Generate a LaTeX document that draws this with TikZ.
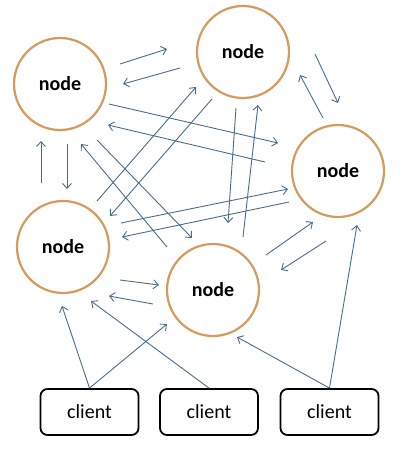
\documentclass[tikz,border=0pt]{standalone}
\usepackage{fontspec}
\setmainfont{Carlito}
\usetikzlibrary{arrows.meta}
\definecolor{ringc}{HTML}{D49A5E}
\definecolor{arrc}{HTML}{4A6C8C}
\begin{document}
\begin{tikzpicture}[x=1pt,y=-1pt,
  ring/.style={circle,draw=ringc,line width=2.2pt,minimum size=92pt,inner sep=0pt,font=\fontsize{20}{24}\selectfont\bfseries},
  cbox/.style={draw=black,line width=1.8pt,rounded corners=7pt,minimum width=98pt,minimum height=46pt,inner sep=0pt,font=\fontsize{20}{24}\selectfont},
  link/.style={draw=arrc,line width=0.9pt,-{Straight Barb[length=5pt,width=9pt,line width=0.9pt]}}]
\useasboundingbox (0,0) rectangle (414,463);
\node[ring] (A) at (60,84) {node};
\node[ring] (B) at (243,52) {node};
\node[ring] (C) at (338,171) {node};
\node[ring] (D) at (63,247) {node};
\node[ring] (E) at (213,290) {node};
\node[cbox] (K1) at (89.5,412) {client};
\node[cbox] (K2) at (209,412) {client};
\node[cbox] (K3) at (329.5,412) {client};
% connector end points
\coordinate (ab1) at (120,64);  \coordinate (ab2) at (167,49);
\coordinate (ba1) at (180,68);  \coordinate (ba2) at (123,84);
\coordinate (ac1) at (109,104); \coordinate (ac2) at (278,143);
\coordinate (ca1) at (265,162); \coordinate (ca2) at (108,125);
\coordinate (da1) at (41,183);  \coordinate (da2) at (41,141);
\coordinate (ad1) at (67,144);  \coordinate (ad2) at (67,189);
\coordinate (ae1) at (97,140);  \coordinate (ae2) at (192,238);
\coordinate (ea1) at (167,247); \coordinate (ea2) at (81,144);
\coordinate (db1) at (97,201);  \coordinate (db2) at (196,87);
\coordinate (bd1) at (212,99);  \coordinate (bd2) at (110,216);
\coordinate (be1) at (236,108); \coordinate (be2) at (228,223);
\coordinate (eb1) at (243,237); \coordinate (eb2) at (258,105);
\coordinate (dc1) at (121,223); \coordinate (dc2) at (288,189);
\coordinate (cd1) at (289,202); \coordinate (cd2) at (122,237);
\coordinate (bc1) at (315,54);  \coordinate (bc2) at (338,103);
\coordinate (cb1) at (323,118); \coordinate (cb2) at (300,75);
\coordinate (ec1) at (266,255); \coordinate (ec2) at (313,222);
\coordinate (ce1) at (326,241); \coordinate (ce2) at (281,270);
\coordinate (de1) at (120,280); \coordinate (de2) at (159,285);
\coordinate (ed1) at (153,304); \coordinate (ed2) at (109,296);
\coordinate (k1d) at (62,306);
\coordinate (k1e) at (167,324);
\coordinate (k2d) at (91,301);
\coordinate (k3e) at (237,337);
\coordinate (k3c) at (357,225);
% connectors
\foreach \p in {ab,ba,ac,ca,da,ad,ae,ea,db,bd,be,eb,dc,cd,bc,cb,ec,ce,de,ed}
  \draw[link] (\p1) -- (\p2);
\draw[link] (K1.north) -- (k1d);
\draw[link] (K1.north) -- (k1e);
\draw[link] (K2.north) -- (k2d);
\draw[link] (K3.north) -- (k3e);
\draw[link] (K3.north) -- (k3c);
\end{tikzpicture}
\end{document}
